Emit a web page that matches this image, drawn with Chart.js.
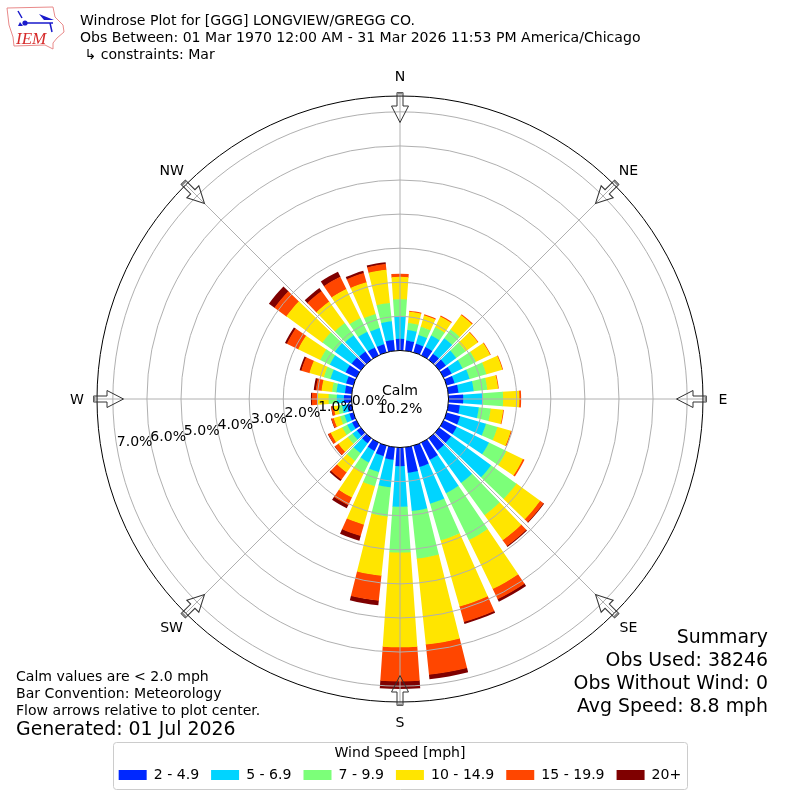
<!DOCTYPE html>
<html>
<head>
<meta charset="utf-8">
<title>Windrose Plot</title>
<script src="https://cdn.jsdelivr.net/npm/chart.js@4"></script>
<style>
  html, body { margin: 0; padding: 0; background: #fff; }
  canvas { display: block; }
</style>
</head>
<body>
<canvas id="myChart" width="800" height="800"></canvas>
<script>
// direction every 10 degrees, starting at north and going clockwise
var directions = [0, 10, 20, 30, 40, 50, 60, 70, 80, 90, 100, 110, 120, 130, 140, 150, 160, 170,
                  180, 190, 200, 210, 220, 230, 240, 250, 260, 270, 280, 290, 300, 310, 320, 330, 340, 350];

// percent of observations per speed class
var speed2 = [.34, .30, .26, .27, .22, .24, .26, .24, .30, .43, .34, .41, .43, .43, .44, .56, .65, .75,
              .55, .37, .32, .27, .18, .14, .14, .12, .13, .22, .20, .22, .35, .33, .30, .26, .25, .32];
var speed5 = [.67, .31, .27, .38, .56, .38, .36, .46, .45, .58, .56, .79, 1.05, 1.45, 1.18, 1.09, 1.12, 1.13,
              1.19, .81, .49, .38, .36, .16, .16, .15, .15, .21, .25, .48, .52, .61, .59, .51, .49, .55];
var speed7 = [.49, .21, .25, .27, .32, .34, .44, .51, .40, .59, .35, .35, .57, .92, 1.17, 1.53, 1.12, 1.40,
              1.34, .86, .43, .32, .28, .17, .16, .13, .12, .24, .13, .20, .31, .45, .44, .45, .43, .54];
var speed10 = [.66, .33, .35, .35, .52, .44, .46, .49, .32, .48, .37, .41, .54, .86, .91, 1.60, 2.02, 2.54,
               2.78, 1.75, 1.17, .82, .42, .34, .38, .20, .13, .34, .31, .44, .72, 1.31, .78, .95, .97, .98];
var speed15 = [.09, .03, .03, .03, .03, .02, .02, .02, .02, .05, .02, .03, .05, .12, .21, .33, .47, .89,
               1.00, .74, .35, .25, .26, .13, .08, .07, .07, .15, .17, .25, .37, .43, .38, .40, .28, .17];
var speed20 = [0, 0, 0, 0, 0, 0, 0, 0, 0, 0, 0, 0, 0, .02, .03, .08, .06, .13,
               .22, .13, .14, .10, .05, .01, .01, .01, .01, .03, .06, .05, .06, .20, .11, .16, .07, .05];

var speedClasses = [speed2, speed5, speed7, speed10, speed15, speed20];
var speedLabels = ['2 - 4.9', '5 - 6.9', '7 - 9.9', '10 - 14.9', '15 - 19.9', '20+'];
var speedColors = ['#0028ff', '#00d4ff', '#7cff79', '#ffe500', '#ff4600', '#7f0000'];

var radialTicks = [0, 1, 2, 3, 4, 5, 6, 7];
var rMin = -1.424;
var rMax = 7.465;

var compassLabels = ['N', 'NE', 'E', 'SE', 'S', 'SW', 'W', 'NW'];
var titleLines = ['Windrose Plot for [GGG] LONGVIEW/GREGG CO.',
                  'Obs Between: 01 Mar 1970 12:00 AM - 31 Mar 2026 11:53 PM America/Chicago',
                  ' \u21B3 constraints: Mar'];
var noteLines = ['Calm values are < 2.0 mph', 'Bar Convention: Meteorology', 'Flow arrows relative to plot center.'];
var generatedLine = 'Generated: 01 Jul 2026';
var summaryLines = ['Summary', 'Obs Used: 38246', 'Obs Without Wind: 0', 'Avg Speed: 8.8 mph'];
var calmLines = ['Calm', '10.2%'];

var barDegrees = 8;
var gapDegrees = 2;
var smallFont = '14.08px "DejaVu Sans"';
var bigFont = '18.9px "DejaVu Sans"';

// every dataset runs out to the top of its class. A zero is added
// after each direction to leave the white gap between two bars.
var labels = [];
directions.forEach(function (d) { labels.push(d + '\u00B0', ''); });

var datasets = speedClasses.map(function (values, c) {
    var data = [];
    directions.forEach(function (d, i) {
        var top = 0;
        for (var k = 0; k <= c; k++) top += speedClasses[k][i];
        data.push(top, 0);
    });
    return {
        label: speedLabels[c],
        data: data,
        backgroundColor: speedColors[c],
        borderWidth: 0,
        angle: function (ctx) { return ctx.dataIndex % 2 ? gapDegrees : barDegrees; }
    };
});

function text(ctx, str, x, y, font, align, base) {
    ctx.font = font;
    ctx.textAlign = align || 'left';
    ctx.textBaseline = base || 'middle';
    ctx.fillStyle = '#000';
    ctx.fillText(str, x, y);
}

// compass arrow, pointing at the centre of the plot
function drawArrow(ctx, cx, cy, bearing) {
    ctx.save();
    ctx.translate(cx, cy);
    ctx.rotate(bearing * Math.PI / 180);
    ctx.strokeStyle = '#333';
    ctx.lineWidth = 1;
    ctx.beginPath();
    ctx.moveTo(-3, -306.5);
    ctx.lineTo(3, -306.5);
    ctx.lineTo(3, -293);
    ctx.lineTo(8.5, -293);
    ctx.lineTo(0, -276.5);
    ctx.lineTo(-8.5, -293);
    ctx.lineTo(-3, -293);
    ctx.closePath();
    ctx.stroke();
    ctx.fillStyle = '#888';
    ctx.fillRect(-3, -306.5, 6, 2);
    ctx.restore();
}

function drawLogo(ctx) {
    ctx.save();
    ctx.strokeStyle = '#e98a8a';
    ctx.lineWidth = 1;
    ctx.beginPath();
    ctx.moveTo(7, 8);
    ctx.lineTo(53, 7);
    ctx.lineTo(55, 17);
    ctx.lineTo(63, 25);
    ctx.lineTo(64, 32);
    ctx.lineTo(57, 38);
    ctx.lineTo(53, 43);
    ctx.lineTo(53, 49);
    ctx.lineTo(45, 45);
    ctx.lineTo(14, 46);
    ctx.lineTo(13, 37);
    ctx.lineTo(9, 25);
    ctx.closePath();
    ctx.stroke();
    ctx.strokeStyle = '#1a1acb';
    ctx.fillStyle = '#1a1acb';
    ctx.lineWidth = 1.5;
    ctx.beginPath();
    ctx.moveTo(25, 23);
    ctx.lineTo(53, 23);
    ctx.moveTo(18, 11);
    ctx.lineTo(22, 18);
    ctx.moveTo(50, 23);
    ctx.lineTo(52, 32);
    ctx.stroke();
    ctx.beginPath();
    ctx.arc(25, 23, 2.6, 0, 2 * Math.PI);
    ctx.fill();
    ctx.beginPath();
    ctx.moveTo(39, 14);
    ctx.lineTo(54, 20);
    ctx.lineTo(44, 20);
    ctx.closePath();
    ctx.moveTo(20, 22);
    ctx.lineTo(23, 26);
    ctx.lineTo(18, 26);
    ctx.closePath();
    ctx.fill();
    ctx.fillStyle = '#d62a2a';
    ctx.font = 'italic 17px "Liberation Serif"';
    ctx.textAlign = 'left';
    ctx.textBaseline = 'alphabetic';
    ctx.fillText('IEM', 16, 44);
    ctx.restore();
}

var windrosePlugin = {
    id: 'windrose',
    // polarArea arcs all start at the centre: start each one at the top of the class below it
    afterDatasetsUpdate: function (chart) {
        var r = chart.scales.r;
        chart.data.datasets.forEach(function (ds, c) {
            chart.getDatasetMeta(c).data.forEach(function (arc, i) {
                var below = c > 0 ? chart.data.datasets[c - 1].data[i] : 0;
                var start = r.getDistanceFromCenterForValue(below);
                arc.innerRadius = c > 0 && ds.data[i] > below ? start - 0.5 : start;
            });
        });
    },
    beforeDraw: function (chart) {
        var ctx = chart.ctx;
        ctx.save();
        ctx.fillStyle = '#fff';
        ctx.fillRect(0, 0, 800, 800);
        ctx.strokeStyle = '#ccc';
        ctx.lineWidth = 1;
        ctx.beginPath();
        ctx.roundRect(113.5, 742.5, 574, 47, 3);
        ctx.stroke();
        ctx.restore();
    },
    // spokes go over the bars, the grid follows
    afterDatasetsDraw: function (chart) {
        var ctx = chart.ctx, r = chart.scales.r;
        var inner = r.getDistanceFromCenterForValue(0);
        var outer = r.getDistanceFromCenterForValue(rMax);
        ctx.save();
        ctx.strokeStyle = '#b0b0b0';
        ctx.lineWidth = 1;
        compassLabels.forEach(function (name, i) {
            var a = i * Math.PI / 4;
            ctx.beginPath();
            ctx.moveTo(r.xCenter + inner * Math.sin(a), r.yCenter - inner * Math.cos(a));
            ctx.lineTo(r.xCenter + outer * Math.sin(a), r.yCenter - outer * Math.cos(a));
            ctx.stroke();
        });
        ctx.restore();
    },
    afterDraw: function (chart) {
        var ctx = chart.ctx, r = chart.scales.r;
        var cx = r.xCenter, cy = r.yCenter;
        ctx.save();

        compassLabels.forEach(function (name, i) {
            var a = i * Math.PI / 4;
            drawArrow(ctx, cx, cy, i * 45);
            text(ctx, name, cx + 323 * Math.sin(a), cy - 323 * Math.cos(a) + 1, smallFont, 'center');
        });

        // radial labels run along the 260 degree direction
        var tickAngle = 260 * Math.PI / 180;
        radialTicks.forEach(function (v) {
            var d = r.getDistanceFromCenterForValue(v);
            text(ctx, v.toFixed(1) + '%', cx + d * Math.sin(tickAngle) - 0.5, cy - d * Math.cos(tickAngle) + 1, smallFont, 'left', 'bottom');
        });

        text(ctx, calmLines[0], cx, 391, smallFont, 'center');
        text(ctx, calmLines[1], cx, 409, smallFont, 'center');

        titleLines.forEach(function (line, i) { text(ctx, line, 80, 21 + i * 17, smallFont); });
        noteLines.forEach(function (line, i) { text(ctx, line, 16, 677 + i * 17, smallFont); });
        text(ctx, generatedLine, 16, 730, bigFont);
        summaryLines.forEach(function (line, i) { text(ctx, line, 768, 638 + i * 23, bigFont, 'right'); });

        drawLogo(ctx);
        ctx.restore();
    }
};

var ctx = document.getElementById('myChart').getContext('2d');
var myChart = new Chart(ctx, {
    type: 'polarArea',
    plugins: [windrosePlugin],
    data: { labels: labels, datasets: datasets },
    options: {
        responsive: false,
        animation: false,
        devicePixelRatio: 1,
        layout: { padding: { top: 96, left: 96, right: 96, bottom: 8 } },
        scales: {
            r: {
                min: rMin,
                max: rMax,
                startAngle: -barDegrees / 2,
                afterBuildTicks: function (axis) {
                    axis.ticks = radialTicks.concat(rMax).map(function (v) { return { value: v }; });
                },
                ticks: { display: false },
                grid: {
                    z: 1,
                    lineWidth: 1,
                    color: function (c) {
                        var v = c.tick && c.tick.value;
                        return v === 0 || v === rMax ? '#000' : '#b0b0b0';
                    }
                }
            }
        },
        plugins: {
            tooltip: { enabled: false },
            legend: {
                position: 'bottom',
                title: {
                    display: true,
                    text: 'Wind Speed [mph]',
                    color: '#000',
                    font: { family: 'DejaVu Sans', size: 14.08 },
                    padding: { top: 44, bottom: -7.7 }
                },
                labels: {
                    boxWidth: 28,
                    boxHeight: 10,
                    padding: 12,
                    color: '#000',
                    font: { family: 'DejaVu Sans', size: 14.08 },
                    generateLabels: function () {
                        return speedLabels.map(function (label, i) {
                            return { text: label, fillStyle: speedColors[i], strokeStyle: speedColors[i], lineWidth: 0, datasetIndex: i };
                        });
                    }
                }
            }
        }
    }
});
</script>
</body>
</html>
